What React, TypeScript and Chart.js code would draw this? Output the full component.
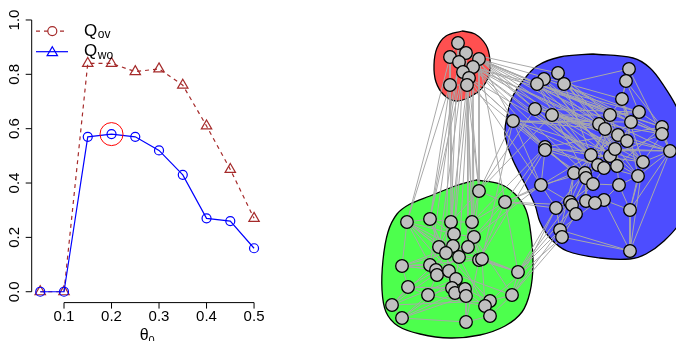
import React, { useEffect, useRef } from 'react';
import { Chart, registerables } from 'chart.js';

Chart.register(...registerables);

// ---------- Left panel data ----------
const theta = [0.05, 0.1, 0.15, 0.2, 0.25, 0.3, 0.35, 0.4, 0.45, 0.5];
const qOv = [0, 0, 0.84, 0.84, 0.81, 0.82, 0.76, 0.61, 0.45, 0.27];
const qWo = [0, 0, 0.57, 0.58, 0.57, 0.52, 0.43, 0.27, 0.26, 0.16];
const bestTheta = [0.2];
const bestQ = [0.58];
const xTicks = [0.1, 0.2, 0.3, 0.4, 0.5];
const xTickLabels = ['0.1', '0.2', '0.3', '0.4', '0.5'];
const yTicks = [0, 0.2, 0.4, 0.6, 0.8, 1.0];
const yTickLabels = ['0.0', '0.2', '0.4', '0.6', '0.8', '1.0'];
const legendMain = ['Q', 'Q'];
const legendSub = ['ov', 'wo'];
const xTitle = 'θ';
const xTitleSub = '0';

// ---------- Right panel data (layout coordinates) ----------
const redNodes: [number, number][] = [
  [458, 43], [450, 57], [466, 53], [459, 62], [479, 59], [473, 67], [463, 72], [469, 78], [450, 85], [467, 85],
];
const blueNodes: [number, number][] = [
  [558, 73], [544, 79], [537, 84], [564, 84], [629, 69], [626, 81], [622, 99], [535, 109], [552, 115], [513, 121],
  [610, 115], [639, 112], [631, 122], [599, 124], [605, 129], [662, 127], [662, 134], [618, 135], [627, 141], [670, 151],
  [545, 147], [545, 150], [591, 155], [610, 156], [615, 149], [643, 162], [598, 165], [617, 166], [604, 168], [574, 173],
  [585, 173], [586, 178], [593, 184], [638, 176], [619, 185], [541, 185], [570, 202], [572, 205], [586, 201], [604, 200],
  [595, 203], [556, 208], [576, 214], [630, 210], [560, 230], [562, 237], [630, 251],
];
const greenNodes: [number, number][] = [
  [479, 191], [505, 202], [407, 222], [430, 219], [451, 222], [472, 222], [454, 234], [474, 237], [439, 247], [453, 246],
  [468, 247], [446, 253], [459, 257], [479, 260], [482, 259], [402, 266], [430, 265], [436, 270], [437, 275], [449, 271],
  [456, 279], [518, 272], [408, 287], [428, 295], [452, 288], [455, 293], [465, 289], [466, 296], [512, 295], [392, 305],
  [490, 301], [485, 306], [490, 316], [402, 318], [466, 322],
];
const redHull: [number, number][] = [
  [462, 31], [475, 34], [486, 45], [490, 60], [489, 75], [482, 88], [470, 97], [456, 101], [444, 95], [436, 82],
  [434, 65], [437, 48], [446, 36], [462, 31],
];
const blueHull: [number, number][] = [
  [593, 54], [633, 58], [650, 68], [664, 86], [677, 108], [688, 140], [688, 190], [680, 222], [664, 241], [646, 254],
  [630, 259], [600, 258], [567, 251], [550, 238], [540, 222], [535, 205], [524, 182], [512, 158], [505, 135], [507, 116],
  [512, 98], [522, 82], [537, 66], [560, 57], [593, 54],
];
const greenHull: [number, number][] = [
  [476, 180], [500, 184], [515, 194], [526, 210], [531, 235], [533, 265], [530, 292], [522, 312], [505, 326], [480, 335],
  [450, 338], [420, 334], [398, 326], [386, 312], [382, 290], [383, 260], [388, 232], [397, 214], [410, 204], [430, 196],
  [455, 186], [476, 180],
];
const edgesRR: [number, number][] = [
  [0, 1], [0, 2], [1, 3], [2, 4], [3, 5], [4, 5], [5, 7], [6, 9], [3, 6], [7, 9], [8, 9], [1, 8], [2, 3], [6, 7], [0, 3], [4, 7],
];
const edgesRG: [number, number][] = [
  [8, 2], [8, 3], [8, 4], [9, 5], [9, 0], [7, 0], [7, 6], [6, 3], [6, 8], [9, 4], [5, 7], [4, 0], [3, 3], [1, 2], [2, 5],
  [0, 4], [9, 10], [7, 12], [6, 6], [5, 5], [8, 11], [1, 9], [3, 16], [4, 1],
];
const edgesRB: [number, number][] = [
  [4, 9], [4, 7], [4, 8], [5, 20], [5, 13], [4, 10], [2, 2], [4, 14], [5, 22], [7, 29], [5, 17], [4, 6], [2, 7], [7, 20],
  [5, 26], [4, 12], [9, 21], [7, 35], [5, 30], [4, 24], [2, 0], [5, 11], [4, 19], [5, 15], [4, 16], [5, 25], [7, 33],
];
const edgesGB: [number, number][] = [
  [1, 35], [1, 20], [1, 41], [1, 29], [0, 9], [0, 7], [21, 41], [21, 44], [21, 36], [28, 44], [28, 45], [5, 20], [7, 35],
  [14, 9], [1, 37], [13, 21], [21, 32], [0, 8], [28, 41], [30, 45],
];
const edgesBB: [number, number][] = [
  [0, 1], [0, 3], [1, 2], [3, 4], [0, 10], [0, 13], [1, 14], [2, 17], [3, 12], [3, 22], [2, 26], [1, 23], [0, 24], [3, 18],
  [7, 13], [7, 14], [7, 17], [7, 22], [8, 10], [8, 23], [8, 26], [8, 28], [9, 13], [9, 20], [9, 29], [9, 22], [9, 35], [9, 14],
  [4, 5], [4, 6], [5, 6], [5, 11], [6, 10], [6, 12], [6, 25], [6, 33], [5, 15], [4, 19], [10, 11], [10, 13], [10, 17], [11, 12],
  [11, 15], [12, 16], [12, 18], [13, 14], [13, 24], [14, 17], [14, 22], [15, 16], [15, 19], [16, 19], [16, 25], [17, 18],
  [17, 27], [18, 19], [18, 25], [19, 25], [19, 33], [19, 24], [19, 46], [20, 21], [20, 29], [20, 22], [21, 31], [21, 35],
  [22, 23], [22, 26], [23, 24], [23, 28], [24, 27], [25, 33], [25, 43], [26, 28], [26, 30], [27, 34], [28, 32], [29, 30],
  [29, 31], [30, 32], [31, 38], [32, 34], [33, 34], [33, 43], [34, 39], [35, 36], [35, 41], [36, 38], [37, 42], [38, 40],
  [39, 43], [40, 41], [41, 44], [42, 45], [43, 46], [44, 46], [45, 46], [39, 46], [20, 26], [7, 28], [8, 24], [2, 30],
  [1, 27], [0, 17], [3, 16], [13, 27], [14, 30], [10, 26], [11, 28], [12, 22], [17, 29], [18, 30], [16, 23], [15, 27],
  [21, 26], [35, 22], [36, 29], [37, 31], [29, 44], [31, 44], [32, 36], [34, 43], [25, 46], [19, 43],
  [2, 15], [7, 19], [8, 16], [9, 25], [1, 11], [0, 25], [2, 33], [7, 11], [20, 15], [21, 19], [9, 12], [8, 18],
  [13, 33], [14, 25], [10, 24], [22, 25], [26, 33], [29, 17], [30, 24], [31, 23], [35, 30], [41, 30], [36, 22], [44, 40],
];
const edgesGG: [number, number][] = [
  [0, 1], [0, 5], [0, 4], [0, 7], [1, 5], [1, 21], [1, 7], [1, 13], [2, 3], [2, 6], [2, 8], [2, 9], [2, 15], [2, 16], [3, 4],
  [3, 6], [3, 8], [3, 11], [4, 5], [4, 6], [4, 9], [5, 7], [5, 10], [6, 7], [6, 9], [6, 12], [7, 10], [7, 13], [7, 14],
  [8, 9], [8, 11], [8, 16], [9, 10], [9, 12], [10, 12], [10, 14], [11, 12], [11, 17], [11, 19], [12, 13], [12, 20], [13, 14],
  [13, 21], [14, 31], [15, 16], [15, 17], [15, 22], [15, 19], [16, 17], [16, 18], [17, 19], [18, 20], [18, 23], [19, 20],
  [19, 24], [20, 24], [20, 26], [21, 28], [21, 14], [22, 23], [22, 29], [22, 24], [23, 24], [23, 33], [24, 25], [25, 27],
  [26, 27], [26, 30], [27, 34], [28, 30], [28, 32], [29, 33], [29, 30], [29, 20], [30, 31], [31, 32], [32, 34], [33, 34],
  [33, 25], [15, 10], [2, 12], [29, 12], [33, 27], [22, 26], [15, 13], [3, 20], [8, 21], [16, 28], [17, 31], [11, 30],
  [9, 21], [5, 12], [4, 8], [2, 11], [2, 19], [15, 9], [29, 9], [33, 20], [22, 12], [23, 31], [34, 13], [32, 12], [28, 7],
];

const FONT = '"Liberation Sans", Arial, Helvetica, sans-serif';
const BROWN = '#A52A2A';
const BLUE = '#0000FF';

function drawTriangle(ctx: CanvasRenderingContext2D, x: number, y: number, r: number) {
  ctx.beginPath();
  for (let k = 0; k < 3; k++) {
    const a = (k * 2 * Math.PI) / 3;
    const px = x + Math.sin(a) * r;
    const py = y - Math.cos(a) * r;
    if (k === 0) ctx.moveTo(px, py);
    else ctx.lineTo(px, py);
  }
  ctx.closePath();
  ctx.stroke();
}

const rAxesPlugin = {
  id: 'rAxes',
  afterDraw(chart: any) {
    const { ctx, chartArea, scales } = chart;
    const xs = scales.x;
    const ys = scales.y;
    ctx.save();
    ctx.strokeStyle = '#000';
    ctx.fillStyle = '#000';
    ctx.lineWidth = 1;
    ctx.setLineDash([]);
    // y axis
    const ax = chartArea.left;
    ctx.beginPath();
    ctx.moveTo(ax, ys.getPixelForValue(yTicks[0]));
    ctx.lineTo(ax, ys.getPixelForValue(yTicks[yTicks.length - 1]));
    yTicks.forEach((t) => {
      const py = ys.getPixelForValue(t);
      ctx.moveTo(ax - 6, py);
      ctx.lineTo(ax, py);
    });
    // x axis
    const ay = chartArea.bottom;
    ctx.moveTo(xs.getPixelForValue(xTicks[0]), ay);
    ctx.lineTo(xs.getPixelForValue(xTicks[xTicks.length - 1]), ay);
    xTicks.forEach((t) => {
      const px = xs.getPixelForValue(t);
      ctx.moveTo(px, ay);
      ctx.lineTo(px, ay + 6);
    });
    ctx.stroke();

    ctx.font = `15px ${FONT}`;
    ctx.textAlign = 'center';
    ctx.textBaseline = 'middle';
    yTicks.forEach((t, i) => {
      const py = ys.getPixelForValue(t);
      ctx.save();
      ctx.translate(ax - 17, py);
      ctx.rotate(-Math.PI / 2);
      ctx.fillText(yTickLabels[i], 0, 0);
      ctx.restore();
    });
    xTicks.forEach((t, i) => {
      ctx.fillText(xTickLabels[i], xs.getPixelForValue(t), ay + 14);
    });

    // x title with subscript
    ctx.textAlign = 'left';
    ctx.textBaseline = 'alphabetic';
    ctx.font = `16px ${FONT}`;
    const w1 = ctx.measureText(xTitle).width;
    ctx.font = `11px ${FONT}`;
    const w2 = ctx.measureText(xTitleSub).width;
    const cx = (chartArea.left + chartArea.right) / 2;
    const sx = cx - (w1 + w2) / 2;
    ctx.font = `16px ${FONT}`;
    ctx.fillText(xTitle, sx, ay + 37);
    ctx.font = `11px ${FONT}`;
    ctx.fillText(xTitleSub, sx + w1, ay + 41);

    // legend
    const rows = [chartArea.top + 22, chartArea.top + 42.6];
    const lx0 = chartArea.left + 4.3;
    const lx1 = chartArea.left + 36.3;
    const mx = chartArea.left + 20.6;
    const tx = chartArea.left + 52.3;
    rows.forEach((ry, i) => {
      const color = i === 0 ? BROWN : BLUE;
      ctx.strokeStyle = color;
      ctx.lineWidth = 1.2;
      ctx.setLineDash(i === 0 ? [4, 4] : []);
      ctx.beginPath();
      ctx.moveTo(lx0, ry);
      ctx.lineTo(lx1, ry);
      ctx.stroke();
      ctx.setLineDash([]);
      ctx.fillStyle = '#fff';
      if (i === 0) {
        ctx.beginPath();
        ctx.arc(mx, ry, 4.5, 0, Math.PI * 2);
        ctx.fill();
        ctx.stroke();
      } else {
        drawTriangle(ctx, mx, ry + 1, 6);
      }
      ctx.fillStyle = '#000';
      ctx.textBaseline = 'middle';
      ctx.font = `17px ${FONT}`;
      ctx.fillText(legendMain[i], tx, ry);
      const qw = ctx.measureText(legendMain[i]).width;
      ctx.font = `12px ${FONT}`;
      ctx.fillText(legendSub[i], tx + qw + 0.5, ry + 4);
    });
    ctx.restore();
  },
};

function pts(xs: number[], ys: number[]) {
  return xs.map((x, i) => ({ x, y: ys[i] }));
}

function nodePts(nodes: [number, number][]) {
  return nodes.map(([x, y]) => ({ x, y }));
}

function edgeData(pairs: [number, number][], a: [number, number][], b: [number, number][]) {
  const out: any[] = [];
  pairs.forEach(([i, j]) => {
    out.push({ x: a[i][0], y: a[i][1] });
    out.push({ x: b[j][0], y: b[j][1] });
    out.push({ x: null, y: null });
  });
  return out;
}

function LeftChart() {
  const ref = useRef<HTMLCanvasElement>(null);
  useEffect(() => {
    const chart = new Chart(ref.current as HTMLCanvasElement, {
      type: 'scatter',
      data: {
        datasets: [
          {
            data: pts(bestTheta, bestQ),
            showLine: false,
            pointRadius: 11.5,
            pointBorderColor: '#FF0000',
            pointBackgroundColor: 'rgba(0,0,0,0)',
            pointBorderWidth: 1,
            clip: false,
          } as any,
          {
            data: pts(theta, qWo),
            showLine: true,
            borderColor: BLUE,
            borderWidth: 1.2,
            pointStyle: 'circle',
            pointRadius: 4.5,
            pointBorderColor: BLUE,
            pointBackgroundColor: 'rgba(0,0,0,0)',
            pointBorderWidth: 1.2,
            clip: false,
          },
          {
            data: pts(theta, qOv),
            showLine: true,
            borderColor: BROWN,
            borderDash: [4, 4],
            borderWidth: 1.2,
            pointStyle: 'triangle',
            pointRadius: 6,
            pointBorderColor: BROWN,
            pointBackgroundColor: 'rgba(0,0,0,0)',
            pointBorderWidth: 1.2,
            clip: false,
          },
        ],
      },
      options: {
        animation: false,
        responsive: false,
        events: [],
        layout: { autoPadding: false, padding: { left: 31.7, right: 17.4, top: 9.1, bottom: 38.4 } },
        scales: {
          x: { type: 'linear', min: 0.032, max: 0.518, display: false },
          y: { type: 'linear', min: -0.04, max: 1.04, display: false },
        },
        plugins: { legend: { display: false }, tooltip: { enabled: false } },
      } as any,
      plugins: [rAxesPlugin],
    });
    return () => chart.destroy();
  }, []);
  return (
    <canvas
      ref={ref}
      width={280}
      height={341}
      style={{ position: 'absolute', left: 0, top: 0, width: 280, height: 341 }}
    />
  );
}

function RightChart() {
  const ref = useRef<HTMLCanvasElement>(null);
  useEffect(() => {
    const nodeStyle = {
      showLine: false,
      pointRadius: 6.3,
      pointBackgroundColor: '#C0C0C0',
      pointBorderColor: '#000000',
      pointBorderWidth: 1.3,
      order: 0,
    };
    const edgeStyle = {
      showLine: true,
      borderColor: '#A9A9A9',
      borderWidth: 1,
      pointRadius: 0,
      spanGaps: false,
      order: 1,
    };
    const hullStyle = (fillColor: string) => ({
      showLine: true,
      borderColor: '#000000',
      borderWidth: 1.3,
      backgroundColor: fillColor,
      fill: 'shape',
      tension: 0.35,
      capBezierPoints: false,
      clip: false,
      pointRadius: 0,
      order: 2,
    });
    const chart = new Chart(ref.current as HTMLCanvasElement, {
      type: 'scatter',
      data: {
        datasets: [
          { data: nodePts(greenNodes), ...nodeStyle } as any,
          { data: nodePts(blueNodes), ...nodeStyle } as any,
          { data: nodePts(redNodes), ...nodeStyle } as any,
          { data: edgeData(edgesRR, redNodes, redNodes), ...edgeStyle } as any,
          { data: edgeData(edgesRG, redNodes, greenNodes), ...edgeStyle } as any,
          { data: edgeData(edgesRB, redNodes, blueNodes), ...edgeStyle } as any,
          { data: edgeData(edgesGB, greenNodes, blueNodes), ...edgeStyle } as any,
          { data: edgeData(edgesBB, blueNodes, blueNodes), ...edgeStyle } as any,
          { data: edgeData(edgesGG, greenNodes, greenNodes), ...edgeStyle } as any,
          { data: nodePts(redHull), ...hullStyle('rgb(255,80,80)') } as any,
          { data: nodePts(blueHull), ...hullStyle('rgb(77,77,255)') } as any,
          { data: nodePts(greenHull), ...hullStyle('rgb(77,255,77)') } as any,
        ],
      },
      options: {
        animation: false,
        responsive: false,
        events: [],
        layout: { autoPadding: false, padding: 0 },
        scales: {
          x: { type: 'linear', min: 370, max: 676, display: false },
          y: { type: 'linear', min: 0, max: 341, reverse: true, display: false },
        },
        plugins: { legend: { display: false }, tooltip: { enabled: false } },
      } as any,
    });
    return () => chart.destroy();
  }, []);
  return (
    <canvas
      ref={ref}
      width={306}
      height={341}
      style={{ position: 'absolute', left: 370, top: 0, width: 306, height: 341 }}
    />
  );
}

export default function App() {
  return (
    <div
      style={{
        position: 'fixed',
        left: 0,
        top: 0,
        width: 676,
        height: 341,
        background: '#ffffff',
        overflow: 'hidden',
      }}
    >
      <LeftChart />
      <RightChart />
    </div>
  );
}
